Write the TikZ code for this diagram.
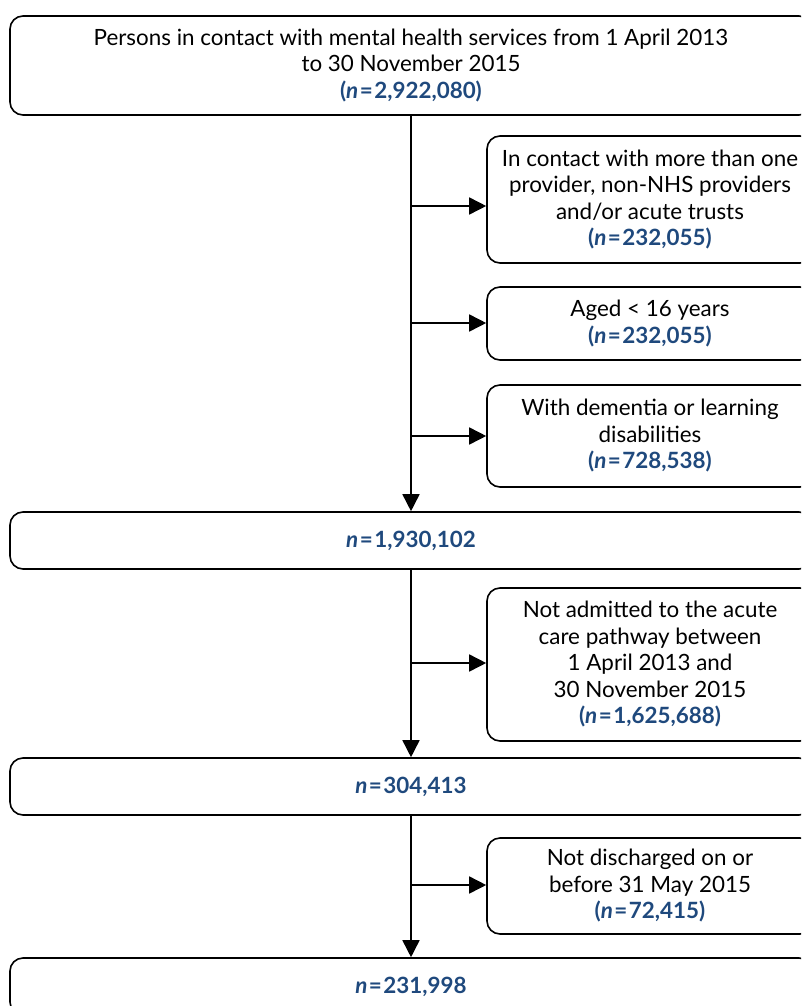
\documentclass[tikz,border=0pt]{standalone}
\usepackage{fontspec}
\setmainfont{Lato}
\usetikzlibrary{arrows.meta}
\definecolor{nblue}{RGB}{31,73,125}
\newcommand{\nval}[1]{{\color{nblue}\bfseries(\textit{n}\kern1.5pt=\kern1.5pt#1)}}
\newcommand{\nbare}[1]{{\color{nblue}\bfseries\textit{n}\kern1.5pt=\kern1.5pt#1}}
\begin{document}
\begin{tikzpicture}[x=1pt,y=-1pt,
  box/.style={draw,line width=1.6pt,rounded corners=13pt,align=center,inner sep=0pt,
    font=\fontsize{22.4}{26.5}\selectfont},
  mainbox/.style={box,minimum width=802pt},
  sidebox/.style={box,minimum width=326pt},
  conn/.style={line width=1.6pt,-{Triangle[length=17pt,width=17pt]}}]
\useasboundingbox (0,0) rectangle (801,1006);
\clip (0,0) rectangle (801,1006);
\node[mainbox,minimum height=99pt] (top) at (411,65.5)
  {Persons in contact with mental health services from 1 April 2013\\to 30 November 2015\\\nval{2,922,080}};
\node[sidebox,minimum height=127pt] (s1) at (650,199.5)
  {In contact with more than one\\provider, non-NHS providers\\and/or acute trusts\\\nval{232,055}};
\node[sidebox,minimum height=73pt] (s2) at (650,323.5)
  {Aged < 16 years\\\nval{232,055}};
\node[sidebox,minimum height=102pt] (s3) at (650,436)
  {With dementia or learning\\disabilities\\\nval{728,538}};
\node[mainbox,minimum height=57pt] (n1) at (411,540.5) {\nbare{1,930,102}};
\node[sidebox,minimum height=153pt] (s4) at (650,664.5)
  {Not admitted to the acute\\care pathway between\\1 April 2013 and\\30 November 2015\\\nval{1,625,688}};
\node[mainbox,minimum height=57pt] (n2) at (411,786.5) {\nbare{304,413}};
\node[sidebox,minimum height=96pt] (s5) at (650,886)
  {Not discharged on or\\before 31 May 2015\\\nval{72,415}};
\node[mainbox,minimum height=57pt] (n3) at (411,986.5) {\nbare{231,998}};
\coordinate (j1) at (411,206);
\coordinate (j2) at (411,323);
\coordinate (j3) at (411,436);
\coordinate (j4) at (411,663);
\coordinate (j5) at (411,885);
\draw[conn] (top.south) -- (n1.north);
\draw[conn] (n1.south) -- (n2.north);
\draw[conn] (n2.south) -- (n3.north);
\draw[conn] (j1) -- (j1 -| s1.west);
\draw[conn] (j2) -- (j2 -| s2.west);
\draw[conn] (j3) -- (j3 -| s3.west);
\draw[conn] (j4) -- (j4 -| s4.west);
\draw[conn] (j5) -- (j5 -| s5.west);
\end{tikzpicture}
\end{document}
